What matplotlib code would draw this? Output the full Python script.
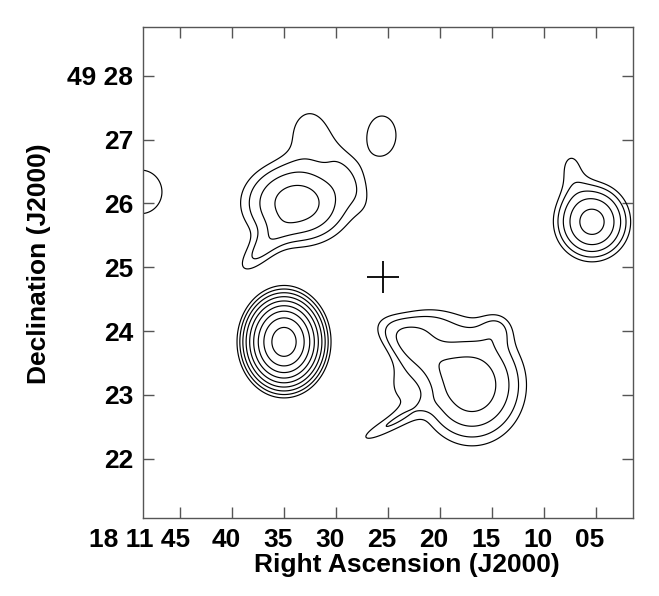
import numpy as np
import matplotlib
matplotlib.use("Agg")
import matplotlib.pyplot as plt
import matplotlib.transforms as mtransforms

plt.rcParams['font.family'] = ['Liberation Sans', 'DejaVu Sans']
plt.rcParams['font.weight'] = 'bold'

# source components (RA in seconds of 18h11m, Dec in arcmin of +49d)
comp_ra = [35.0,                                   # compact source, lower left
           33.75, 32.88, 29.13, 37.60,             # extended source, upper left
           25.58,                                  # small blob, top
           48.75,                                  # edge blob, left
           5.38, 7.4,                              # source, right
           16.92, 22.88, 21.44, 14.52, 24.04, 25.48]  # extended source, lower right
comp_dec = [23.83,
            26.005, 27.16, 26.55, 25.20,
            27.07,
            26.18,
            25.71, 26.6,
            23.154, 23.78, 24.141, 24.047, 23.154, 22.48]
comp_peak = [19.5,
             3.4, 1.05, 0.7, 1.2,
             1.3,
             1.3,
             4.65, 1.0,
             3.6, 1.7, 1.1, 0.85, 0.75, 1.25]
comp_sx = [0.302,
           0.564, 0.30, 0.63, 0.39,
           0.30,
           0.45,
           0.345, 0.20,
           0.533, 0.47, 0.39, 0.19, 0.22, 0.44]   # arcmin
comp_sy = [0.36,
           0.44, 0.345, 0.19, 0.157,
           0.41,
           0.47,
           0.357, 0.30,
           0.595, 0.22, 0.22, 0.19, 0.345, 0.11]   # arcmin
comp_pa = [0,
           0, 0, -61, 45,
           0,
           0,
           0, 0,
           0, -33, 0, 0, 0, 28.5]                  # deg

levels = [1.0, 1.414, 2.0, 2.83, 4.0, 5.66, 8.0, 11.3, 16.0, 22.6]

pointing_ra = 25.48
pointing_dec = 24.846

ra_ticks = [45, 40, 35, 30, 25, 20, 15, 10, 5]
ra_labels = ['18 11 45', '40', '35', '30', '25', '20', '15', '10', '05']
dec_ticks = [28, 27, 26, 25, 24, 23, 22]
dec_labels = ['49 28', '27', '26', '25', '24', '23', '22']

ra_lim = (48.56, 1.44)
dec_lim = (21.071, 28.763)
sec_to_arcmin = 0.1629


def make_field(ra, dec):
    f = np.zeros_like(ra)
    for r0, d0, p, sx, sy, pa in zip(comp_ra, comp_dec, comp_peak, comp_sx, comp_sy, comp_pa):
        dx = -(ra - r0) * sec_to_arcmin
        dy = dec - d0
        t = np.radians(pa)
        u = dx * np.cos(t) + dy * np.sin(t)
        v = -dx * np.sin(t) + dy * np.cos(t)
        f += p * np.exp(-0.5 * ((u / sx) ** 2 + (v / sy) ** 2))
    return f


ra_grid = np.linspace(ra_lim[0] + 1, ra_lim[1] - 1, 500)
dec_grid = np.linspace(dec_lim[0] - 0.2, dec_lim[1] + 0.2, 500)
RA, DEC = np.meshgrid(ra_grid, dec_grid)
field = make_field(RA, DEC)

fig = plt.figure(figsize=(6.59, 5.96), dpi=100)
ax = fig.add_axes([143 / 659, 1 - 518 / 596, 490 / 659, 491 / 596])

ax.contour(RA, DEC, field, levels=levels, colors='black', linewidths=0.85)
ax.plot(pointing_ra, pointing_dec, marker='+', ms=23, mew=1.3, color='black')

ax.set_xlim(*ra_lim)
ax.set_ylim(*dec_lim)
ax.set_xticks(ra_ticks)
ax.set_xticklabels(ra_labels)
ax.set_yticks(dec_ticks)
ax.set_yticklabels(dec_labels)

for s in ax.spines.values():
    s.set_color('#555555')
    s.set_linewidth(1.0)
ax.tick_params(direction='in', top=True, right=True, length=8, width=1.0,
               color='#555555', labelsize=19)
ax.tick_params(axis='x', pad=7.5)
ax.tick_params(axis='y', pad=7)

shift = mtransforms.ScaledTranslation(-6 / 100, 0, fig.dpi_scale_trans)
first_shift = mtransforms.ScaledTranslation(10 / 100, 0, fig.dpi_scale_trans)
for i, lab in enumerate(ax.get_xticklabels()):
    if i == 0:
        lab.set_horizontalalignment('right')
        lab.set_transform(lab.get_transform() + first_shift)
    else:
        lab.set_transform(lab.get_transform() + shift)

fig.text(407 / 659, 24 / 596, 'Right Ascension (J2000)', ha='center', va='baseline',
         fontsize=19, fontweight='bold')
fig.text(39 / 659, 1 - 264 / 596, 'Declination (J2000)', ha='center', va='center',
         rotation=90, fontsize=19, fontweight='bold')

fig.savefig('out.png', dpi=100)
